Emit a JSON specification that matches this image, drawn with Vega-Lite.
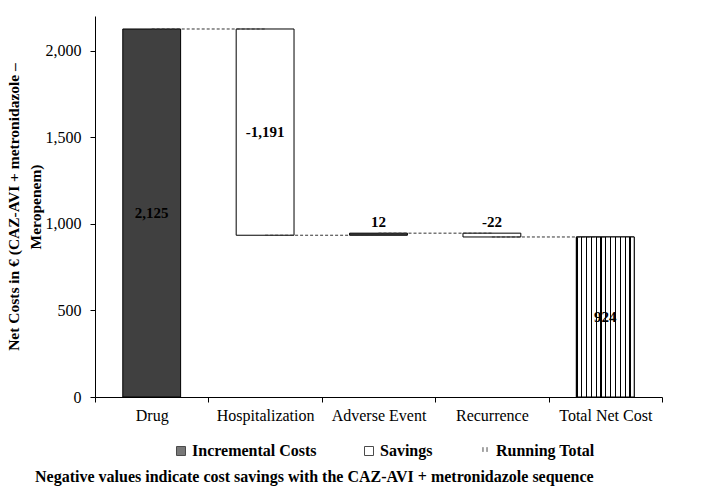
{
  "$schema": "https://vega.github.io/schema/vega-lite/v6.json",
  "autosize": {"type": "none"},
  "width": 567,
  "height": 381,
  "padding": {"left": 95, "top": 16, "right": 48, "bottom": 98},
  "background": "white",
  "config": {
    "view": {"stroke": null},
    "font": "Liberation Serif, Times New Roman, DejaVu Serif, serif",
    "locale": {"number": {"decimal": ".", "thousands": ",", "grouping": [3], "currency": ["$", ""], "minus": "-"}},
    "axis": {"labelFont": "Liberation Serif, Times New Roman, serif", "labelFontSize": 16, "labelColor": "black", "domainColor": "black", "tickColor": "black", "grid": false, "titleFont": "Liberation Serif, Times New Roman, serif", "titleColor": "black"},
    "legend": {"labelFont": "Liberation Serif, Times New Roman, serif"}
  },
  "title": {
    "text": "Negative values indicate cost savings with the CAZ-AVI + metronidazole sequence",
    "orient": "bottom",
    "anchor": "start",
    "frame": "group",
    "dx": -60,
    "offset": 10,
    "font": "Liberation Serif, Times New Roman, serif",
    "fontSize": 16,
    "fontWeight": "bold",
    "color": "black"
  },
  "data": {
    "values": [
      {"cat": "Drug", "start": 0, "end": 2125, "value": 2125, "type": "Incremental Costs", "size": "big"},
      {"cat": "Hospitalization", "start": 2125, "end": 934, "value": -1191, "type": "Savings", "size": "big"},
      {"cat": "Adverse Event", "start": 934, "end": 946, "value": 12, "type": "Incremental Costs", "size": "small"},
      {"cat": "Recurrence", "start": 946, "end": 924, "value": -22, "type": "Savings", "size": "small"},
      {"cat": "Total Net Cost", "start": 0, "end": 924, "value": 924, "type": "Running Total", "size": "big"}
    ]
  },
  "encoding": {
    "x": {
      "field": "cat",
      "type": "nominal",
      "sort": null,
      "scale": {"paddingInner": 0, "paddingOuter": 0},
      "axis": {"title": null, "labelAngle": 0, "tickBand": "extent", "tickSize": 5, "labelPadding": 5, "domainWidth": 1}
    }
  },
  "layer": [
    {
      "mark": {"type": "bar", "width": {"band": 0.51}, "stroke": "black", "strokeWidth": 1},
      "encoding": {
        "y": {
          "field": "start",
          "type": "quantitative",
          "scale": {"domain": [0, 2200], "nice": false},
          "axis": {
            "values": [0, 500, 1000, 1500, 2000],
            "format": ",.0f",
            "tickSize": 5,
            "labelPadding": 9,
            "title": ["Net Costs in € (CAZ-AVI + metronidazole –", "Meropenem)"],
            "titleFontSize": 15.5,
            "titleFontWeight": "bold",
            "titleLineHeight": 22,
            "titlePadding": 2
          }
        },
        "y2": {"field": "end"},
        "fill": {
          "field": "type",
          "type": "nominal",
          "scale": {"domain": ["Incremental Costs", "Savings", "Running Total"], "range": ["#404040", "white", "white"]},
          "legend": {
            "title": null,
            "orient": "none",
            "legendX": 78,
            "legendY": 427,
            "direction": "horizontal",
            "labelFontSize": 16,
            "labelFontWeight": "bold",
            "labelColor": "black",
            "labelOffset": 3,
            "columnPadding": 44,
            "symbolSize": 81,
            "symbolStrokeColor": "black",
            "symbolStrokeWidth": 1
          }
        }
      }
    },
    {
      "transform": [{"filter": "datum.type === 'Running Total'"}],
      "mark": {
        "type": "bar",
        "width": {"band": 0.51},
        "stroke": "black",
        "strokeWidth": 1,
        "fill": {
          "gradient": "linear", "x1": 0, "y1": 0, "x2": 1, "y2": 0,
          "stops": [
            {"offset": 0.0, "color": "black"}, {"offset": 0.02, "color": "black"}, {"offset": 0.02, "color": "white"}, {"offset": 0.0833, "color": "white"},
            {"offset": 0.0833, "color": "black"}, {"offset": 0.1033, "color": "black"}, {"offset": 0.1033, "color": "white"}, {"offset": 0.1667, "color": "white"},
            {"offset": 0.1667, "color": "black"}, {"offset": 0.1867, "color": "black"}, {"offset": 0.1867, "color": "white"}, {"offset": 0.25, "color": "white"},
            {"offset": 0.25, "color": "black"}, {"offset": 0.27, "color": "black"}, {"offset": 0.27, "color": "white"}, {"offset": 0.3333, "color": "white"},
            {"offset": 0.3333, "color": "black"}, {"offset": 0.3533, "color": "black"}, {"offset": 0.3533, "color": "white"}, {"offset": 0.4167, "color": "white"},
            {"offset": 0.4167, "color": "black"}, {"offset": 0.4367, "color": "black"}, {"offset": 0.4367, "color": "white"}, {"offset": 0.5, "color": "white"},
            {"offset": 0.5, "color": "black"}, {"offset": 0.52, "color": "black"}, {"offset": 0.52, "color": "white"}, {"offset": 0.5833, "color": "white"},
            {"offset": 0.5833, "color": "black"}, {"offset": 0.6033, "color": "black"}, {"offset": 0.6033, "color": "white"}, {"offset": 0.6667, "color": "white"},
            {"offset": 0.6667, "color": "black"}, {"offset": 0.6867, "color": "black"}, {"offset": 0.6867, "color": "white"}, {"offset": 0.75, "color": "white"},
            {"offset": 0.75, "color": "black"}, {"offset": 0.77, "color": "black"}, {"offset": 0.77, "color": "white"}, {"offset": 0.8333, "color": "white"},
            {"offset": 0.8333, "color": "black"}, {"offset": 0.8533, "color": "black"}, {"offset": 0.8533, "color": "white"}, {"offset": 0.9167, "color": "white"},
            {"offset": 0.9167, "color": "black"}, {"offset": 0.9367, "color": "black"}, {"offset": 0.9367, "color": "white"}, {"offset": 1.0, "color": "white"}
          ]
        }
      },
      "encoding": {
        "y": {"field": "start", "type": "quantitative"},
        "y2": {"field": "end"}
      }
    },
    {
      "mark": {"type": "point", "filled": false, "size": 0, "stroke": "black", "strokeWidth": 1},
      "encoding": {
        "y": {"field": "end", "type": "quantitative"},
        "shape": {
          "field": "type",
          "type": "nominal",
          "scale": {"domain": ["Incremental Costs", "Savings", "Running Total"], "range": ["square", "square", "M-0.45,-0.85V0.2M0.45,-0.85V0.2"]},
          "legend": {
            "title": null,
            "orient": "none",
            "legendX": 78,
            "legendY": 427,
            "direction": "horizontal",
            "labelFontSize": 16,
            "labelFontWeight": "bold",
            "labelColor": "black",
            "labelOffset": 3,
            "columnPadding": 44,
            "symbolSize": 81,
            "symbolStrokeColor": "black",
            "symbolStrokeWidth": 1
          }
        }
      }
    },
    {
      "data": {
        "values": [
          {"from": "Drug", "to": "Hospitalization", "level": 2125},
          {"from": "Hospitalization", "to": "Adverse Event", "level": 934},
          {"from": "Adverse Event", "to": "Recurrence", "level": 946},
          {"from": "Recurrence", "to": "Total Net Cost", "level": 924}
        ]
      },
      "mark": {"type": "rule", "stroke": "#333333", "strokeWidth": 1, "strokeDash": [3, 2]},
      "encoding": {
        "x": {"field": "from", "type": "nominal", "sort": ["Drug", "Hospitalization", "Adverse Event", "Recurrence", "Total Net Cost"]},
        "x2": {"field": "to"},
        "y": {"field": "level", "type": "quantitative"}
      }
    },
    {
      "transform": [
        {"filter": "datum.size === 'big'"},
        {"calculate": "(datum.start + datum.end) / 2", "as": "mid"}
      ],
      "mark": {"type": "text", "font": "Liberation Serif, Times New Roman, serif", "fontSize": 15, "fontWeight": "bold", "color": "black", "baseline": "middle"},
      "encoding": {
        "y": {"field": "mid", "type": "quantitative"},
        "text": {"field": "value", "type": "quantitative", "format": ","}
      }
    },
    {
      "transform": [
        {"filter": "datum.size === 'small'"},
        {"calculate": "max(datum.start, datum.end)", "as": "top"}
      ],
      "mark": {"type": "text", "font": "Liberation Serif, Times New Roman, serif", "fontSize": 15, "fontWeight": "bold", "color": "black", "baseline": "alphabetic", "dy": -6},
      "encoding": {
        "y": {"field": "top", "type": "quantitative"},
        "text": {"field": "value", "type": "quantitative", "format": ","}
      }
    }
  ]
}
